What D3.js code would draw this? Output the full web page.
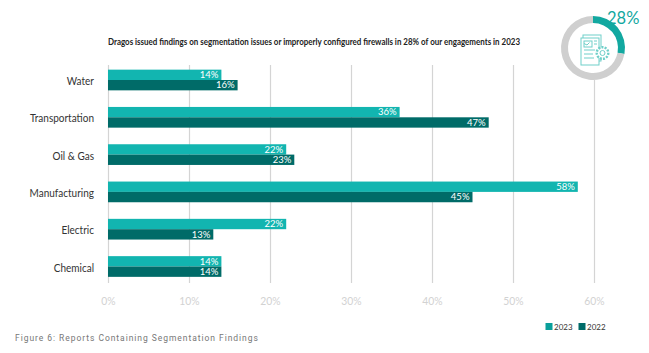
<!DOCTYPE html>
<html>
<head>
<meta charset="utf-8">
<script src="https://cdn.jsdelivr.net/npm/d3@7"></script>
<style>
html,body{margin:0;padding:0;background:#fff}
text{font-family:Lato,sans-serif}
</style>
</head>
<body>
<div id="chart"></div>
<script>
const categories = ['Water','Transportation','Oil & Gas','Manufacturing','Electric','Chemical'];
const seriesNames = ['2023','2022'];
const values2023 = [14,36,22,58,22,14];
const values2022 = [16,47,23,45,13,14];
const ticks = [0,10,20,30,40,50,60];
const donutShare = 28;
const colors = {'2023':'#12b5b0','2022':'#006b68'};

const svg = d3.select('#chart').append('svg').attr('width',649).attr('height',353).style('display','block');

const x = d3.scaleLinear().domain([0,60]).range([108,594]);
const y = d3.scaleBand().domain(categories).range([61.35,285.15]).paddingInner(0.445).paddingOuter(0.2225);
const y2 = d3.scaleBand().domain(seriesNames).range([0,y.bandwidth()]);

// gridlines, 60% one stops under the donut
svg.append('g').selectAll('line').data(ticks).join('line')
  .attr('x1',d=>x(d)+0.5).attr('x2',d=>x(d)+0.5)
  .attr('y1',d=>d===60?80:65).attr('y2',283)
  .attr('stroke','#d4d4d4').attr('stroke-width',1.2);

// axis labels
svg.append('g').selectAll('text').data(ticks).join('text')
  .attr('transform',d=>`translate(${x(d)+0.5},305) scale(.9,1)`).attr('text-anchor','middle')
  .attr('font-size',11.5).attr('fill','#d2d2d2').text(d=>d+'%');

// category labels are narrower in the reference, squeeze a bit
svg.append('g').selectAll('text').data(categories).join('text')
  .attr('transform',d=>`translate(94,${y(d)+y.bandwidth()/2+5}) scale(.87,1)`).attr('text-anchor','end')
  .attr('font-size',11.5).attr('fill','#333').text(d=>d);

const rows = [];
categories.forEach((c,i)=>{
  rows.push({c,s:'2023',v:values2023[i]});
  rows.push({c,s:'2022',v:values2022[i]});
});

svg.append('g').selectAll('rect').data(rows).join('rect')
  .attr('x',x(0)).attr('y',d=>y(d.c)+y2(d.s))
  .attr('width',d=>x(d.v)-x(0)).attr('height',y2.bandwidth())
  .attr('fill',d=>colors[d.s]);

svg.append('g').selectAll('text').data(rows).join('text')
  .attr('x',d=>x(d.v)-3).attr('y',d=>y(d.c)+y2(d.s)+y2.bandwidth()/2+3.3)
  .attr('text-anchor','end').attr('font-size',9.5).attr('fill','#fff').text(d=>d.v+'%');

// title
svg.append('text').attr('x',108).attr('y',45).attr('font-size',8.5).attr('font-weight',700).attr('fill','#222')
  .attr('textLength',412).attr('lengthAdjust','spacingAndGlyphs')
  .text('Dragos issued findings on segmentation issues or improperly configured firewalls in 28% of our engagements in 2023');

// donut
const donut = svg.append('g').attr('transform','translate(593,48)');
const arc = d3.arc().innerRadius(25).outerRadius(32);
const pie = d3.pie().sort(null)([donutShare,100-donutShare]);
donut.selectAll('path').data(pie).join('path').attr('d',arc).attr('fill',(d,i)=>i?'#cfcfcf':'#12a8a0');

// report + gear icon
const icon = donut.append('g').attr('fill','none').attr('stroke','#6fcfc9').attr('stroke-width',1);
icon.append('rect').attr('x',-10).attr('y',-13).attr('width',18).attr('height',26);
icon.append('rect').attr('x',-12).attr('y',-10).attr('width',18).attr('height',27).attr('fill','#fff');
icon.append('rect').attr('x',-9).attr('y',-7).attr('width',8).attr('height',6);
icon.append('path').attr('d','M-9 -4.5L-6 -3L-3.5 -5.5M1 -7H4M1 -4H4M-9 2H2M-9 6H0M-9 10H1');
icon.append('circle').attr('r',5.8).attr('cx',9.5).attr('cy',5).attr('fill','#fff').attr('stroke-width',2.4).attr('stroke-dasharray','2 1.2');
icon.append('circle').attr('r',2.5).attr('cx',9.5).attr('cy',5);

svg.append('text').attr('x',607).attr('y',24).attr('font-size',16.5).attr('fill','#12a8a0').text(donutShare+'%');

// legend
const legend = svg.append('g').selectAll('g').data(seriesNames).join('g')
  .attr('transform',(d,i)=>`translate(${545.5+i*33},323)`);
legend.append('rect').attr('width',7).attr('height',7).attr('fill',d=>d==='2023'?'#0a9f9b':colors[d]);
legend.append('text').attr('x',8.5).attr('y',7).attr('font-size',8).attr('fill','#333').text(d=>d);

// caption
svg.append('text').attr('x',15).attr('y',341).attr('font-size',8.5).attr('letter-spacing',0.95)
  .attr('fill','#777').style('font-family','Roboto').text('Figure 6: Reports Containing Segmentation Findings');
</script>
</body>
</html>
